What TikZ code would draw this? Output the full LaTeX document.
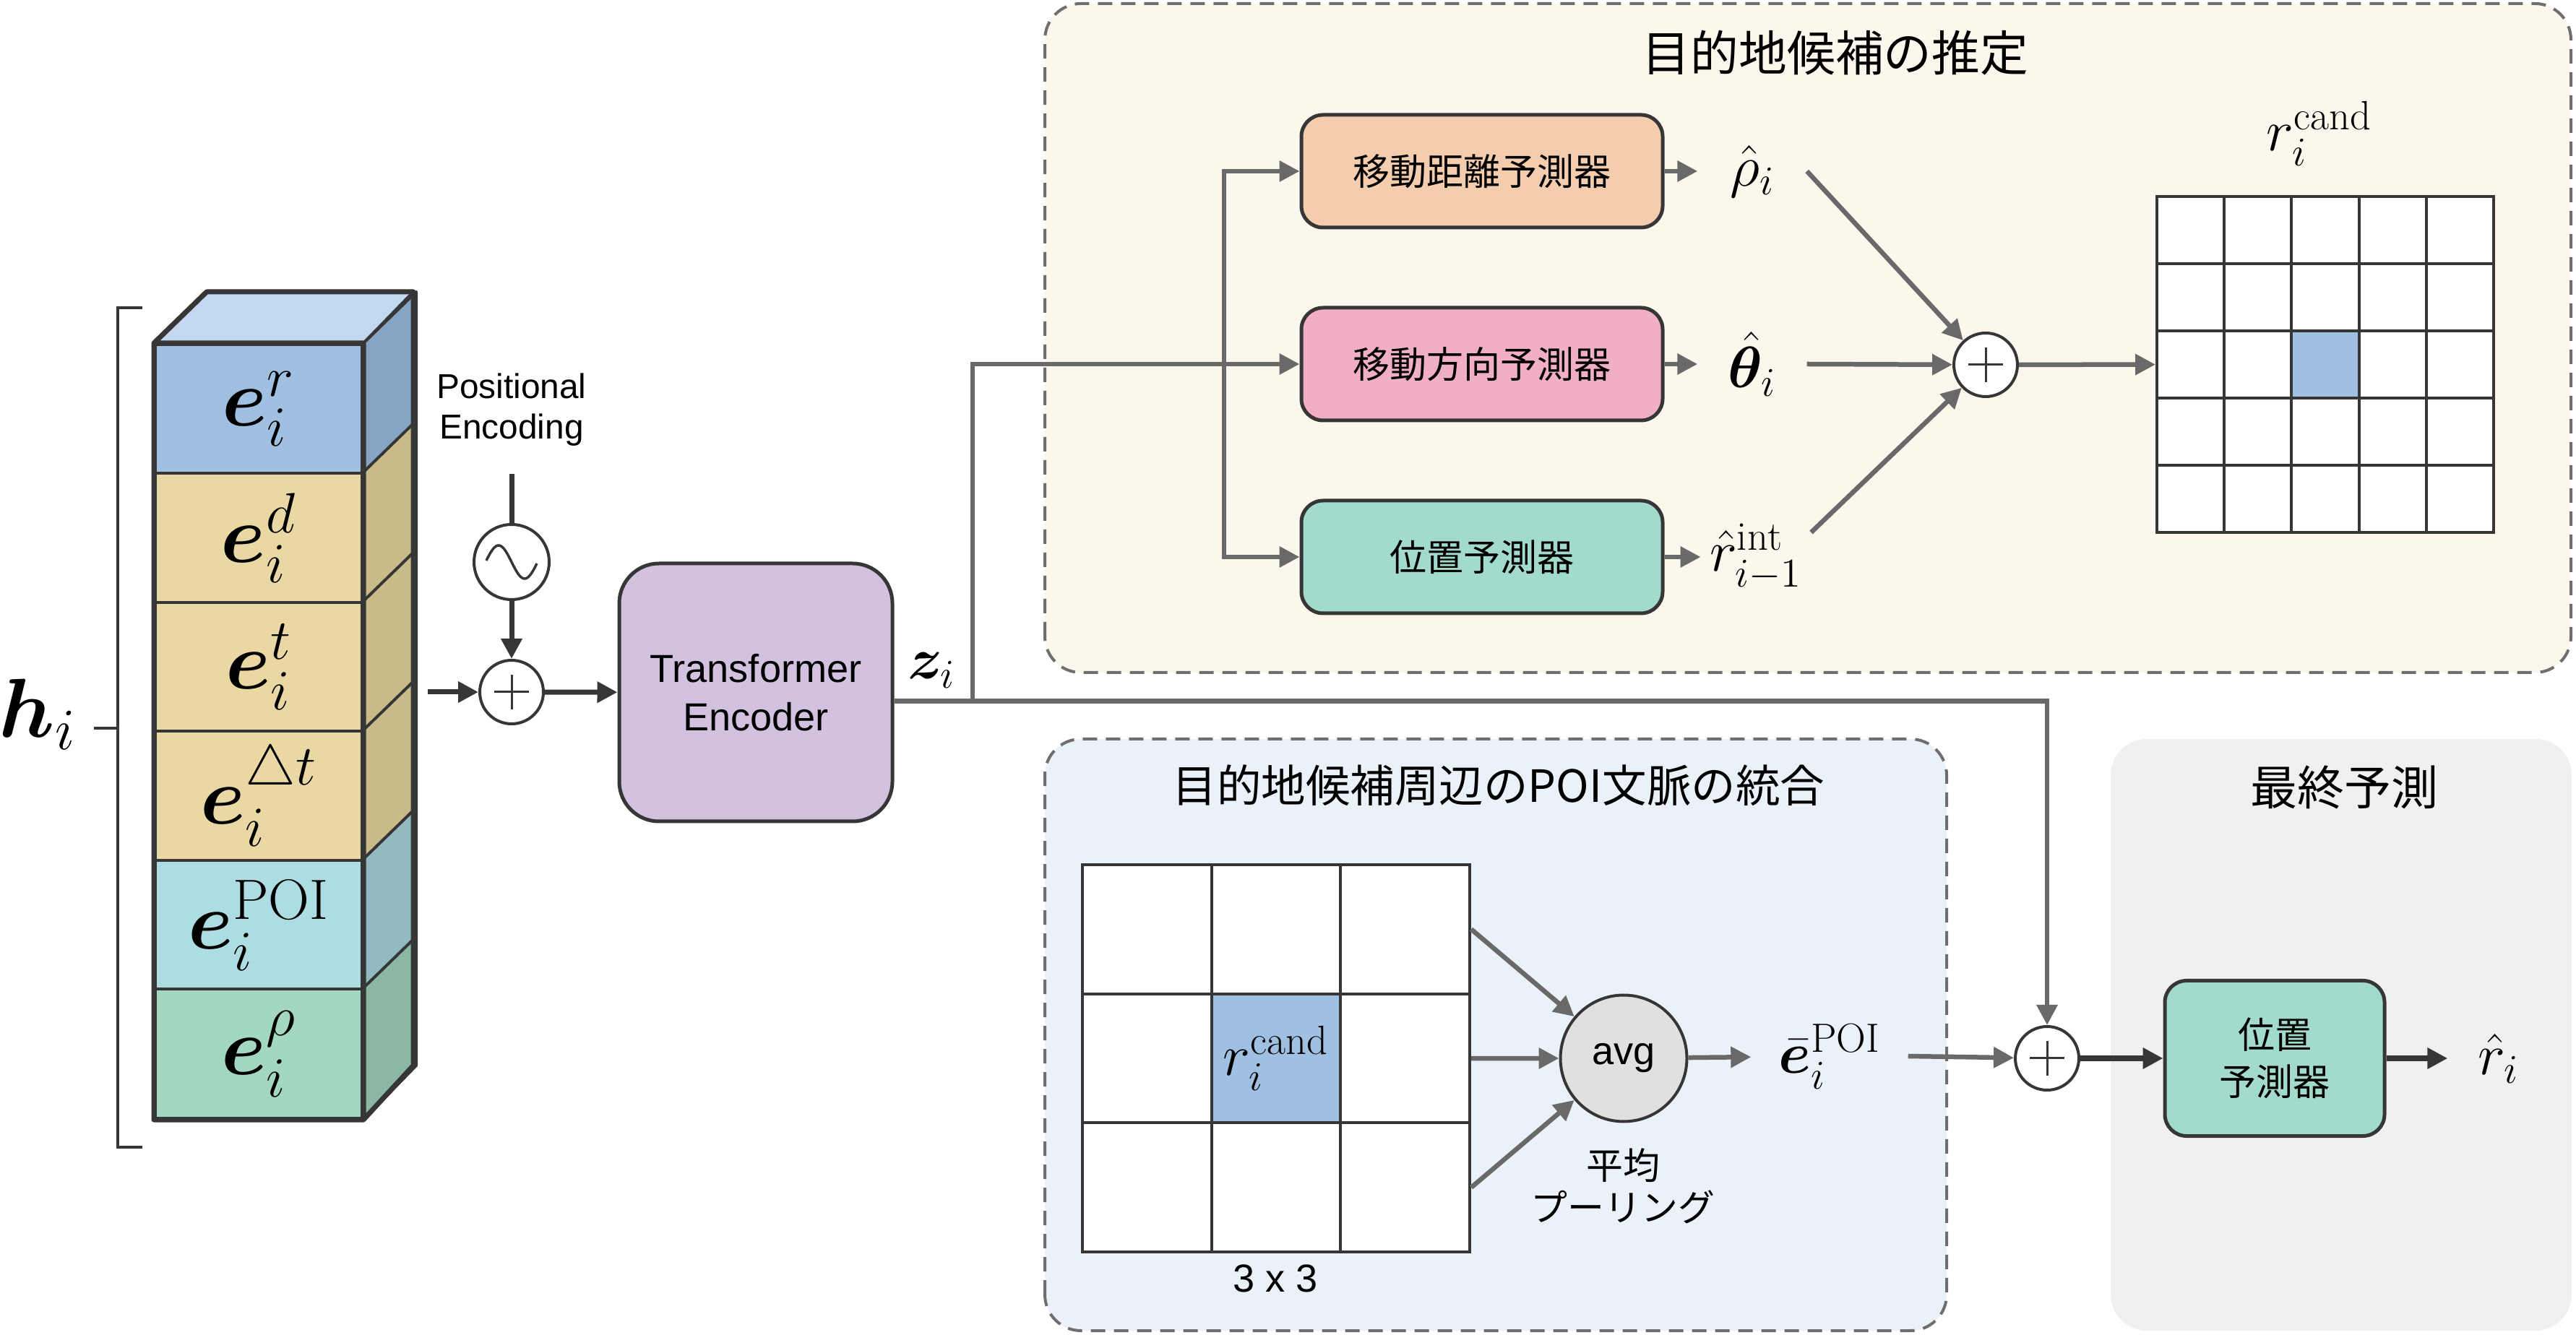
\RequirePackage{fix-cm}
\documentclass[tikz,border=0pt]{standalone}
\usepackage{amsmath}
\usepackage{amssymb}
\usepackage{bm}
\usepackage{fontspec}
\newfontfamily\jpfont{Noto Sans CJK JP}
\newfontfamily\helv{Liberation Sans}
\usetikzlibrary{arrows.meta}

\definecolor{rfront}{HTML}{A0C0E2}
\definecolor{rtop}{HTML}{C2D8EE}
\definecolor{rside}{HTML}{86A4C4}
\definecolor{tanfront}{HTML}{E9D7A4}
\definecolor{tanside}{HTML}{C8BB89}
\definecolor{poifront}{HTML}{ADDDE3}
\definecolor{poiside}{HTML}{92BAC1}
\definecolor{rhofront}{HTML}{A4D7C2}
\definecolor{rhoside}{HTML}{8AB8A3}
\definecolor{encpurple}{HTML}{D2C1DF}
\definecolor{distpeach}{HTML}{F4CDAF}
\definecolor{dirpink}{HTML}{F0AFC3}
\definecolor{posgreen}{HTML}{A2DBCC}
\definecolor{creambg}{HTML}{FBF7EC}
\definecolor{bluebg}{HTML}{EAF1F8}
\definecolor{graybg}{HTML}{F0F0F0}
\definecolor{avggray}{HTML}{E0E0E0}
\definecolor{flowgray}{HTML}{696969}
\definecolor{linedark}{HTML}{363636}
\definecolor{dashgray}{HTML}{6E6E6E}

\begin{document}
\begin{tikzpicture}[>/.tip={Triangle[length=0.28cm,width=0.28cm]},
  flow/.style={->, draw=flowgray, line width=0.065cm},
  darkflow/.style={->, draw=linedark, line width=0.07cm},
  panel/.style={draw=dashgray, line width=0.04cm, dash pattern=on 0.2cm off 0.12cm, rounded corners=0.5cm},
  paneltitle/.style={font=\jpfont\fontsize{19}{22}\selectfont},
  layer/.style={draw=linedark, line width=0.04cm, minimum width=2.86cm, minimum height=1.785cm, inner sep=0pt, font=\fontsize{32}{36}\selectfont},
  facet/.style={draw=linedark, line width=0.04cm, line join=round},
  predbox/.style={draw=linedark, line width=0.05cm, rounded corners=0.3cm, minimum width=5cm, minimum height=1.56cm, align=center, font=\jpfont\fontsize{14.5}{18.5}\selectfont},
  sumnode/.style={draw=linedark, circle, fill=white, line width=0.04cm, minimum size=0.88cm, inner sep=0pt,
    path picture={\draw[linedark, line width=0.03cm] (path picture bounding box.center) ++(-0.24,0) -- ++(0.48,0)
      (path picture bounding box.center) ++(0,-0.24) -- ++(0,0.48);}},
  mathlbl/.style={font=\fontsize{23}{27}\selectfont},
  gcell/.style={draw=linedark, line width=0.04cm, fill=white, minimum width=0.932cm, minimum height=0.93cm, inner sep=0pt},
  pcell/.style={draw=linedark, line width=0.04cm, fill=white, minimum size=1.787cm, inner sep=0pt},
  topcell33/.style={fill=rfront},
  poicell22/.style={fill=rfront}]
\useasboundingbox (0,0) rectangle (35.65,18.47);

% background panels
\draw[panel, fill=creambg] (14.46,9.16) rectangle (35.58,18.42);
\draw[panel, fill=bluebg] (14.46,0.05) rectangle (26.94,8.24);
\fill[graybg, rounded corners=0.5cm] (29.21,0.05) rectangle (35.59,8.24);
\draw (25.40,17.74) node (ttlcand) [paneltitle] {目的地候補の推定};
\draw (20.74,7.60) node (ttlpoi) [paneltitle, font=\jpfont\fontsize{17.5}{20}\selectfont] {目的地候補周辺のPOI文脈の統合};
\draw (32.44,7.57) node (ttlfin) [paneltitle, font=\jpfont\fontsize{18.5}{22}\selectfont] {最終予測};

% embedding stack
\draw (3.58,12.8075) node (er)   [layer, fill=rfront]   {$\bm{e}_i^{r}$};
\draw (3.58,11.0225) node (ed)   [layer, fill=tanfront] {$\bm{e}_i^{d}$};
\draw (3.58,9.2375)  node (et)   [layer, fill=tanfront] {$\bm{e}_i^{t}$};
\draw (3.58,7.4525)  node (edt)  [layer, fill=tanfront] {$\bm{e}_i^{\triangle t}$};
\draw (3.58,5.6675)  node (epoi) [layer, fill=poifront] {$\bm{e}_i^{\mathrm{POI}}$};
\draw (3.58,3.8825)  node (erho) [layer, fill=rhofront] {$\bm{e}_i^{\rho}$};
\filldraw[facet, fill=rtop] (er.north west) -- ++(0.73,0.71) -- ++(2.86,0) -- (er.north east) -- cycle;
\filldraw[facet, fill=rside]   (er.north east)   -- ++(0.73,0.71) -- ++(0,-1.785) -- (er.south east) -- cycle;
\filldraw[facet, fill=tanside] (ed.north east)   -- ++(0.73,0.71) -- ++(0,-1.785) -- (ed.south east) -- cycle;
\filldraw[facet, fill=tanside] (et.north east)   -- ++(0.73,0.71) -- ++(0,-1.785) -- (et.south east) -- cycle;
\filldraw[facet, fill=tanside] (edt.north east)  -- ++(0.73,0.71) -- ++(0,-1.785) -- (edt.south east) -- cycle;
\filldraw[facet, fill=poiside] (epoi.north east) -- ++(0.73,0.71) -- ++(0,-1.785) -- (epoi.south east) -- cycle;
\filldraw[facet, fill=rhoside] (erho.north east) -- ++(0.73,0.71) -- ++(0,-1.785) -- (erho.south east) -- cycle;
\draw[linedark, line width=0.07cm, line join=round] (erho.south west) -- (er.north west) -- ++(0.73,0.71) -- ++(2.86,0)
  -- ++(0,-10.71) -- (erho.south east) -- cycle (er.north west) -- (er.north east) -- (erho.south east);

% bracket
\draw[linedark, line width=0.035cm] (1.97,14.21) -- (1.63,14.21) -- (1.63,2.59) -- (1.97,2.59);
\draw[linedark, line width=0.035cm] (1.30,8.39) -- (1.63,8.39);
\draw (0.52,8.58) node (hvec) [font=\fontsize{33}{37}\selectfont] {$\bm{h}_i$};

% positional encoding
\draw (7.08,12.80) node (pe) [align=center, font=\helv\fontsize{13.6}{16}\selectfont] {Positional\\Encoding};
\coordinate (peEnd) at (7.08,11.91);
\draw (7.08,10.69) node (sine) [draw=linedark, circle, line width=0.04cm, minimum size=1.04cm] {};
\draw[linedark, line width=0.035cm, domain=-0.35:0.35, samples=50, shift={(sine.center)}] plot (\x, {-0.23*sin(500*\x)});
\draw (7.08,8.89) node (addPE) [sumnode] {};
\coordinate (inStart) at (5.92,8.89);
\draw[linedark, line width=0.07cm] (peEnd) -- (sine);
\draw[darkflow] (sine) -- (addPE);
\draw[darkflow] (inStart) -- (addPE);

% encoder
\draw (10.46,8.885) node (enc) [draw=linedark, line width=0.05cm, fill=encpurple, rounded corners=0.55cm,
  minimum width=3.78cm, minimum height=3.57cm, align=center, font=\helv\fontsize{15.4}{19}\selectfont] {Transformer\\Encoder};
\draw[darkflow] (addPE) -- (enc);
\draw (12.89,9.19) node (zlbl) [mathlbl] {$\bm{z}_i$};

% candidate estimation
\draw (20.51,16.10) node (distbox) [predbox, fill=distpeach] {移動距離予測器};
\draw (20.51,13.43) node (dirbox)  [predbox, fill=dirpink]   {移動方向予測器};
\draw (20.51,10.76) node (posbox)  [predbox, fill=posgreen]  {位置予測器};
\draw (24.25,16.10) node (rho)   [mathlbl, minimum width=1.5cm] {$\hat{\rho}_i$};
\draw (24.25,13.43) node (theta) [mathlbl, minimum width=1.5cm] {$\hat{\bm{\theta}}_i$};
\draw (24.30,10.76) node (rint)  [mathlbl, minimum width=1.5cm] {$\hat{r}_{i-1}^{\mathrm{int}}$};
\draw (27.48,13.42) node (addA) [sumnode] {};
\foreach \r in {1,...,5}
  \foreach \c in {1,...,5}
    \draw ({29.384+0.932*\c},{16.215-0.93*\r}) node (g\r\c) [gcell, topcell\r\c/.try] {};
\draw (32.10,16.62) node (cand) [mathlbl] {$r_i^{\mathrm{cand}}$};

% final prediction
\draw (28.33,3.82) node (addFin) [sumnode] {};
\draw (31.48,3.82) node (finbox) [predbox, fill=posgreen, minimum width=3.04cm, minimum height=2.15cm] {位置\\予測器};
\draw (34.58,3.82) node (rhat) [mathlbl, minimum width=1.4cm] {$\hat{r}_i$};

\coordinate (zsplit) at (13.46,8.77);
\coordinate (fork) at (16.94,13.43);
\draw[flow] ([yshift=-0.12cm]enc.east) -| (addFin);
\draw[flow] (zsplit) |- (dirbox);
\draw[flow] (fork) |- (distbox);
\draw[flow] (fork) |- (posbox);
\draw[flow] (distbox) -- (rho);
\draw[flow] (dirbox) -- (theta);
\draw[flow] (posbox) -- (rint);
\draw[flow] (rho.east) -- (addA);
\draw[flow] (theta.east) -- (addA);
\draw[flow] ([yshift=0.34cm]rint.east) -- (addA);
\draw[flow] (addA) -- (g31);

% POI context
\foreach \r in {1,...,3}
  \foreach \c in {1,...,3}
    \draw ({14.0865+1.787*\c},{7.3935-1.787*\r}) node (p\r\c) [pcell, poicell\r\c/.try] {};
\draw (p22) node (candB) [mathlbl] {$r_i^{\mathrm{cand}}$};
\draw (17.65,0.77) node (sz) [font=\helv\fontsize{15.4}{18}\selectfont] {3 x 3};
\draw (22.47,3.82) node (avg) [draw=linedark, circle, line width=0.04cm, fill=avggray, minimum size=1.75cm,
  font=\helv\fontsize{15.4}{18}\selectfont] {avg};
\draw (22.46,2.05) node (pool) [align=center, font=\jpfont\fontsize{14.5}{16.5}\selectfont] {平均\\プーリング};
\draw (25.32,3.85) node (ebar) [mathlbl, minimum width=2.16cm] {$\bar{\bm{e}}_i^{\mathrm{POI}}$};
\draw[flow] (p13.east) -- (avg);
\draw[flow] (p23.east) -- (avg);
\draw[flow] (p33.east) -- (avg);
\draw[flow] (avg) -- (ebar);

\draw[flow] (ebar.east) -- (addFin);
\draw[darkflow] (addFin) -- (finbox);
\draw[darkflow] (finbox) -- (rhat);
\end{tikzpicture}
\end{document}
